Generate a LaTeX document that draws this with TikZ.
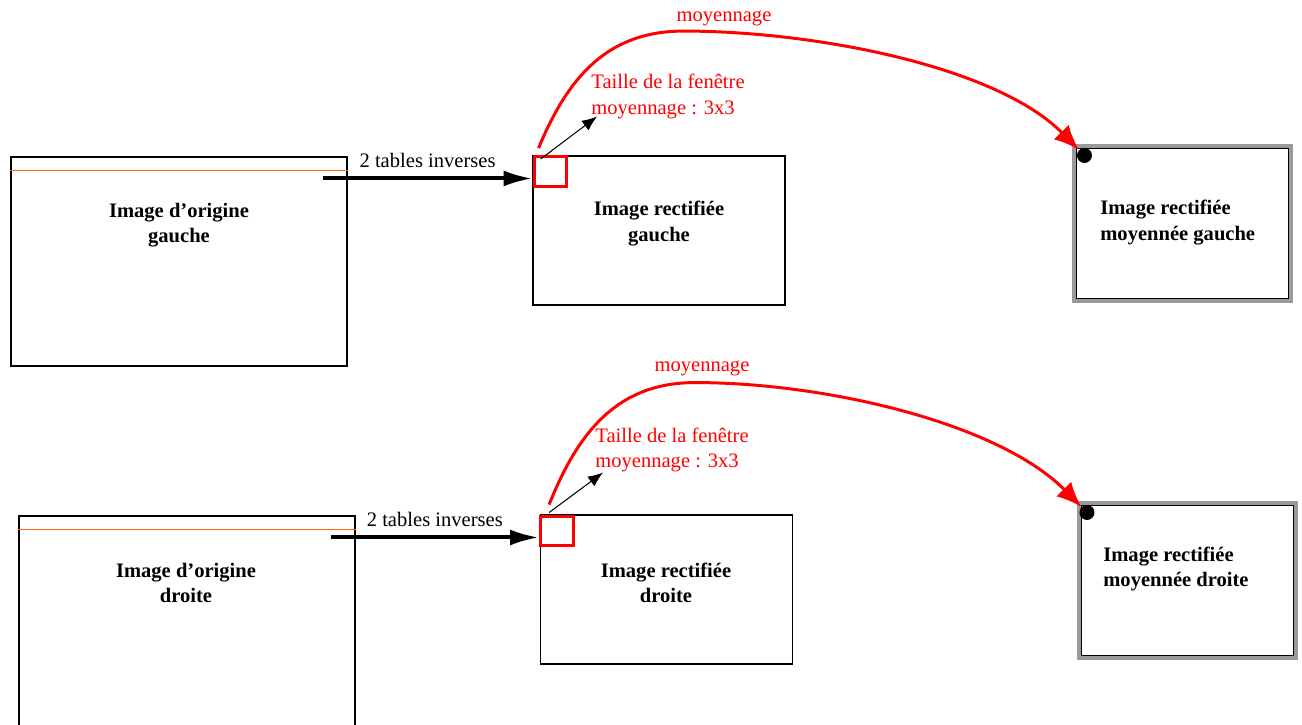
\documentclass[tikz,border=0pt]{standalone}
\usepackage{fontspec}
\setmainfont{Liberation Serif}
\usepackage{xcolor}
\usepackage{tikz}
\usetikzlibrary{arrows.meta, positioning}
\definecolor{avgred}{HTML}{FF0000}
\definecolor{scanorange}{HTML}{FF6A10}
\definecolor{framegray}{HTML}{9A9A9A}
\newcommand{\diagfont}{\fontsize{11.7}{14.5}\selectfont}
\tikzset{
    imgbox/.style={draw=black, line width=0.6pt, inner sep=0pt},
    origbox/.style={imgbox, minimum width=6.72cm, minimum height=4.18cm},
    rectbox/.style={imgbox, minimum width=5.04cm, minimum height=2.98cm},
    resbox/.style={imgbox, minimum width=4.24cm, minimum height=3cm},
    winbox/.style={draw=avgred, line width=1.9pt, minimum width=0.65cm, minimum height=0.59cm, inner sep=0pt},
    corner/.style={circle, fill=black, inner sep=0pt, minimum size=0.3cm},
    caption/.style={font=\diagfont\bfseries, align=center, inner sep=0pt},
    note/.style={text=avgred, align=left, inner sep=0pt, anchor=west},
    scanline/.style={draw=scanorange, line width=0.8pt},
    feed/.style={-{Latex[length=0.58cm, width=0.32cm]}, line width=2.3pt},
    pointer/.style={-{Latex[length=0.3cm, width=0.24cm]}, line width=0.6pt},
    avg/.style={-{Latex[length=0.5cm, width=0.42cm]}, line width=1.7pt, draw=avgred},
    shadeframe/.style={draw=framegray, line width=0.07cm}
}

\begin{document}
\begin{tikzpicture}[font=\diagfont]
    \useasboundingbox (0,0) rectangle (26.04,14.5);

    \node[origbox] (orig1) at (3.58,9.27) {};
    \node[rectbox] (rect1) at (13.18,9.89) {};
    \node[winbox] (win1) at (11.01,11.07) {};
    \node[resbox] (res1) at (23.65,10.03) {};

    \node[origbox, minimum height=4.3cm] (orig2) at (3.74,2.03) {};
    \node[rectbox] (rect2) at (13.33,2.71) {};
    \node[winbox] (win2) at (11.14,3.88) {};
    \node[resbox] (res2) at (23.75,2.89) {};

    \draw[scanline] ([yshift=-0.28cm]orig1.north west) -- ([yshift=-0.28cm]orig1.north east);
    \draw[scanline] ([yshift=-0.28cm]orig2.north west) -- ([yshift=-0.28cm]orig2.north east);

    \draw[shadeframe] ([shift={(-0.035,0.035)}]res1.north west) rectangle ([shift={(0.035,-0.035)}]res1.south east);
    \draw[shadeframe] ([shift={(-0.035,0.035)}]res2.north west) rectangle ([shift={(0.035,-0.035)}]res2.south east);
    \node[corner] (dot1) at ([shift={(0.17,-0.15)}]res1.north west) {};
    \node[corner] (dot2) at ([shift={(0.12,-0.15)}]res2.north west) {};

    \node[caption] (orig1txt) at (3.58,10.0) {Image d’origine\\gauche};
    \node[caption] (rect1txt) at (13.18,10.03) {Image rectifiée\\gauche};
    \node[caption, align=left, anchor=west] (res1txt) at (22.0,10.05) {Image rectifiée\\moyennée gauche};
    \node[caption] (orig2txt) at (3.72,2.84) {Image d’origine\\droite};
    \node[caption] (rect2txt) at (13.32,2.84) {Image rectifiée\\droite};
    \node[caption, align=left, anchor=west] (res2txt) at (22.06,3.12) {Image rectifiée\\moyennée droite};

    \node[note] (size1) at (11.82,12.57) {Taille de la fenêtre\\moyennage : 3x3};
    \node[note] (size2) at (11.9,5.5) {Taille de la fenêtre\\moyennage : 3x3};
    \node[text=avgred] (avg1txt) at (14.48,14.14) {moyennage};
    \node[text=avgred] (avg2txt) at (14.04,7.14) {moyennage};

    \coordinate (src1) at ([shift={(-0.5,-0.44)}]orig1.north east);
    \coordinate (src2) at ([shift={(-0.5,-0.44)}]orig2.north east);

    \draw[feed] (src1) -- (src1 -| win1.west) node[midway, above=1.5pt] {2 tables inverses};
    \draw[feed] (src2) -- (src2 -| win2.west) node[midway, above=1.5pt] {2 tables inverses};

    \draw[pointer] ([shift={(0.16,-0.08)}]win1.north west) -- ([shift={(0.12,0.05)}]size1.south west);
    \draw[pointer] ([shift={(0.2,0.04)}]win2.north west) -- ([shift={(0.16,0.0)}]size2.south west);

    \draw[avg] ([shift={(0.12,0.14)}]win1.north west) .. controls +(0.6,1.45) and +(-1.5,0) .. ++(2.9,2.34)
        .. controls +(2.6,0) and +(-1.66,1.68) .. (dot1.north west);
    \draw[avg] ([shift={(0.2,0.2)}]win2.north west) .. controls +(0.6,1.5) and +(-1.52,0) .. ++(2.92,2.44)
        .. controls +(2.6,0) and +(-1.66,1.68) .. (dot2.north west);
\end{tikzpicture}
\end{document}
